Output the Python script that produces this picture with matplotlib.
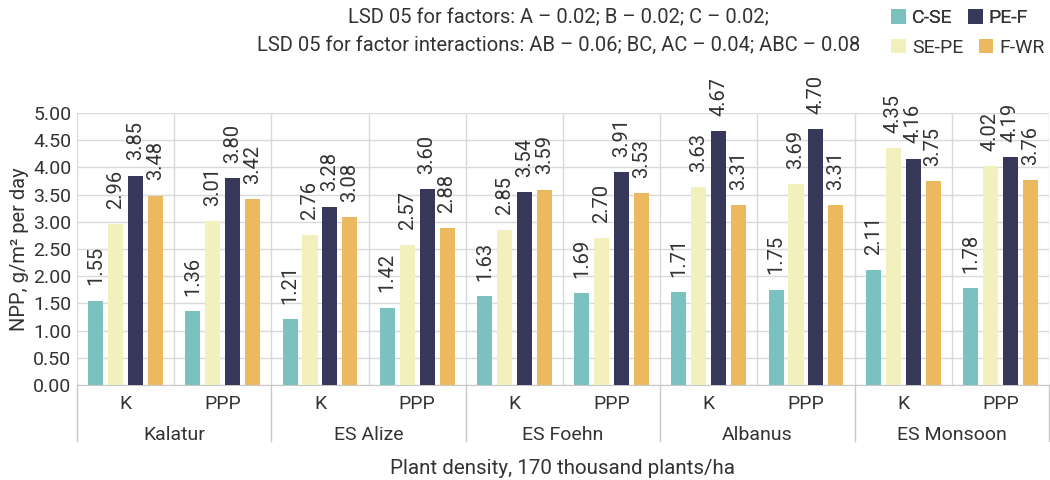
import matplotlib
matplotlib.use("Agg")
import matplotlib.pyplot as plt
from matplotlib.patches import Patch
import numpy as np

plt.rcParams['font.family'] = ['Roboto', 'DejaVu Sans']

varieties = ["Kalatur", "ES Alize", "ES Foehn", "Albanus", "ES Monsoon"]
treatments = ["K", "PPP"]
series_names = ["C-SE", "SE-PE", "PE-F", "F-WR"]
c_se = [1.55, 1.36, 1.21, 1.42, 1.63, 1.69, 1.71, 1.75, 2.11, 1.78]
se_pe = [2.96, 3.01, 2.76, 2.57, 2.85, 2.70, 3.63, 3.69, 4.35, 4.02]
pe_f = [3.85, 3.80, 3.28, 3.60, 3.54, 3.91, 4.67, 4.70, 4.16, 4.19]
f_wr = [3.48, 3.42, 3.08, 2.88, 3.59, 3.53, 3.31, 3.31, 3.75, 3.76]
yticks = [0, 0.5, 1, 1.5, 2, 2.5, 3, 3.5, 4, 4.5, 5]

colors = ["#7AC1C0", "#F2F0BC", "#37375A", "#EDB960"]
series = [c_se, se_pe, pe_f, f_wr]

fig = plt.figure(figsize=(10.5, 4.8), dpi=100)
ax = fig.add_axes([0.0733, 0.198, 0.9257, 0.5667])

n = len(c_se)
x = np.arange(n)
w = 0.155
step = 0.205
txtc = "#333333"
for k, (name, vals, col) in enumerate(zip(series_names, series, colors)):
    xs = x + (k - 1.5) * step
    ax.bar(xs, vals, width=w, color=col, label=name, zorder=3)
    for xi, v in zip(xs, vals):
        ax.annotate(f"{v:.2f}", (xi, v), xytext=(0, 11), textcoords="offset points",
                    rotation=90, ha="center", va="bottom", fontsize=14.5, color=txtc)

ax.set_xlim(-0.5, n - 0.5)
ax.set_ylim(0, 5)
ax.set_yticks(yticks)
ax.set_yticklabels([f"{t:.2f}" for t in yticks], fontsize=14, color=txtc)
ax.set_xticks(x)
ax.set_xticklabels(treatments * len(varieties), fontsize=14, color=txtc)
ax.tick_params(axis="y", length=0, pad=4)
ax.tick_params(axis="x", length=0, pad=7)
ax.set_xticks(np.arange(-0.5, n, 1), minor=True)
ax.tick_params(axis="x", which="minor", length=0)
ax.grid(axis="y", color="#d9d9d9", linewidth=1, zorder=0)
ax.grid(axis="x", which="minor", color="#d9d9d9", linewidth=1, zorder=0)
ax.grid(axis="x", which="major", visible=False)
for s in ["top", "right", "left"]:
    ax.spines[s].set_visible(False)
ax.spines["bottom"].set_color("#c8c8c8")

ax.set_ylabel("NPP, g/m² per day", fontsize=14.5, color=txtc, labelpad=3)

trans = ax.get_xaxis_transform()
for i, v in enumerate(varieties):
    ax.text(2 * i + 0.5, -0.185, v, transform=trans, ha="center", va="center",
            fontsize=14, color=txtc)
for b in range(len(varieties) + 1):
    xb = 2 * b - 0.5
    ax.plot([xb, xb], [0, -0.205], transform=trans, color="#c8c8c8", lw=1, clip_on=False)

fig.text(0.536, 0.025, "Plant density, 170 thousand plants/ha", ha="center", va="center",
         fontsize=14.8, color=txtc)

fig.text(0.532, 0.962, "LSD 05 for factors: A – 0.02; B – 0.02; C – 0.02;", ha="center",
         va="center", fontsize=14.5, color=txtc)
fig.text(0.532, 0.905, "LSD 05 for factor interactions: AB – 0.06; BC, AC – 0.04; ABC – 0.08",
         ha="center", va="center", fontsize=14.5, color=txtc)

def row_legend(names, cols, y):
    handles = [Patch(facecolor=c, edgecolor="none") for c in cols]
    lg = fig.legend(handles, names, loc="center left", bbox_to_anchor=(0.849, y),
                    ncol=2, frameon=False, fontsize=14, handlelength=0.75,
                    handleheight=0.75, handletextpad=0.3, columnspacing=0.8,
                    borderaxespad=0, borderpad=0)
    for t in lg.get_texts():
        t.set_color(txtc)
    return lg

l1 = row_legend(["C-SE", "PE-F"], [colors[0], colors[2]], 0.962)
fig.add_artist(l1)
row_legend(["SE-PE", "F-WR"], [colors[1], colors[3]], 0.9)

fig.savefig("out.png", dpi=100)
